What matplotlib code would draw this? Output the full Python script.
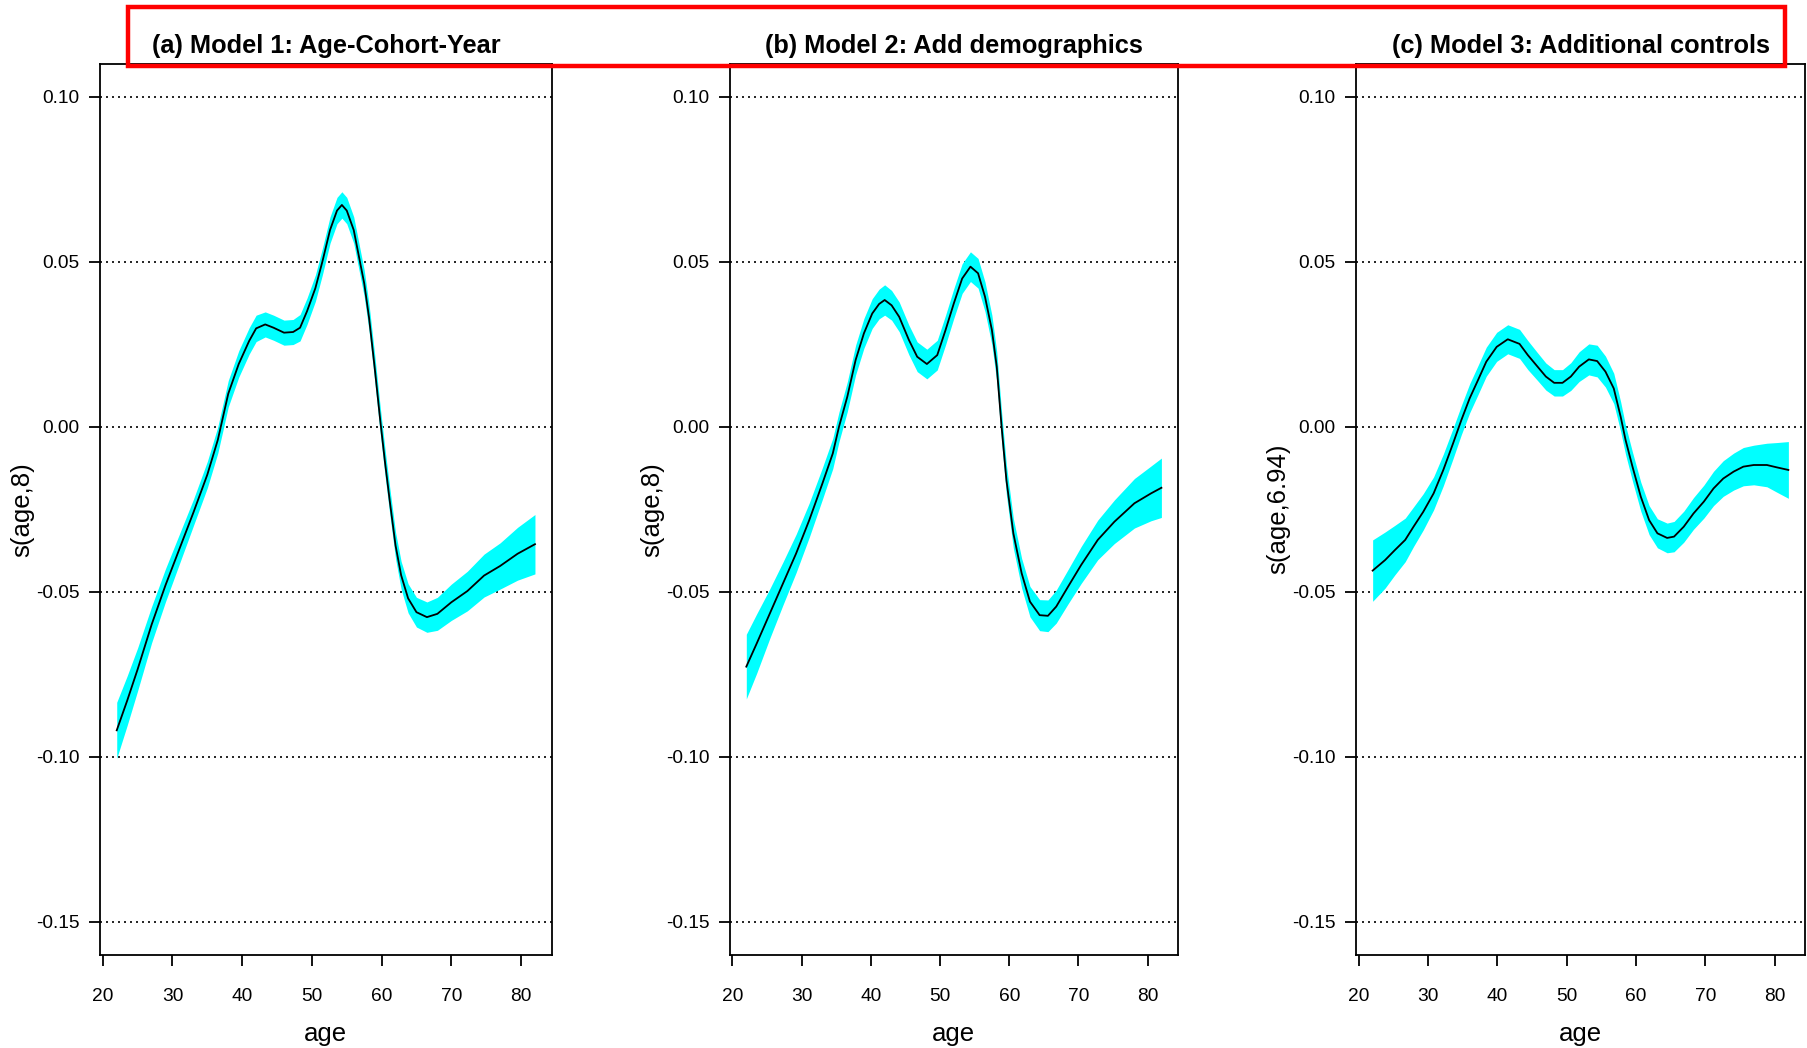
import matplotlib
matplotlib.use('Agg')
import numpy as np
import matplotlib.pyplot as plt
from matplotlib.patches import Rectangle

plt.rcParams['font.family'] = ['Liberation Sans', 'DejaVu Sans']
plt.rcParams['axes.unicode_minus'] = False

# axis ticks
x_ticks = [20, 30, 40, 50, 60, 70, 80]
y_ticks = [0.10, 0.05, 0.00, -0.05, -0.10, -0.15]
y_tick_labels = ['0.10', '0.05', '0.00', '-0.05', '-0.10', '-0.15']

# (a) Model 1: Age-Cohort-Year
age_a = [22, 23.5, 25, 27, 29, 31, 33, 35, 36.5, 38, 39.5, 41, 42, 43.3, 44.5, 46,
         47.3, 48.3, 49.3, 50.5, 51.5, 52.6, 53.6, 54.3, 55, 56, 56.8, 57.5, 58.2,
         59, 59.8, 60.5, 61.2, 62, 62.8, 63.8, 65, 66.5, 68, 70, 72.3, 74.7, 77,
         79.5, 82]
fit_a = [-0.092, -0.083, -0.0735, -0.060, -0.048, -0.037, -0.026, -0.0145, -0.004,
         0.010, 0.019, 0.026, 0.0298, 0.031, 0.030, 0.0285, 0.0287, 0.030, 0.035,
         0.042, 0.050, 0.0596, 0.0655, 0.0672, 0.0655, 0.0596, 0.051, 0.0435, 0.033,
         0.018, 0.002, -0.011, -0.023, -0.036, -0.045, -0.052, -0.0562, -0.0577,
         -0.0567, -0.0532, -0.0498, -0.0451, -0.0422, -0.0385, -0.0356]
band_a = [0.0085, 0.0075, 0.0065, 0.0055, 0.005, 0.0045, 0.004, 0.004, 0.004, 0.004,
          0.004, 0.004, 0.004, 0.0038, 0.0038, 0.0038, 0.0038, 0.004, 0.004, 0.004,
          0.004, 0.004, 0.004, 0.004, 0.004, 0.004, 0.004, 0.004, 0.004, 0.004,
          0.004, 0.004, 0.004, 0.004, 0.0042, 0.0044, 0.0045, 0.0046, 0.005, 0.0055,
          0.006, 0.0065, 0.007, 0.008, 0.009]

# (b) Model 2: Add demographics
age_b = [22, 23.5, 25.4, 27.3, 29.2, 31.1, 33, 34.5, 35.4, 36.6, 37.8, 39, 40.2,
         41.2, 42, 43, 44.1, 45.5, 46.7, 48.1, 49.6, 50.8, 52, 53.2, 54.4, 55.5,
         56.5, 57.5, 58.2, 58.9, 59.6, 60.6, 61.8, 63, 64.4, 65.6, 66.8, 68.5, 70.4,
         72.8, 75.2, 78.1, 80.5, 82]
fit_b = [-0.0727, -0.0657, -0.0566, -0.0475, -0.0384, -0.0283, -0.0172, -0.0081,
         0.0, 0.0091, 0.0202, 0.0283, 0.0343, 0.0372, 0.0384, 0.0368, 0.0333, 0.0263,
         0.0212, 0.019, 0.0217, 0.0293, 0.0374, 0.0449, 0.0485, 0.0465, 0.0394,
         0.0293, 0.0182, 0.0, -0.0162, -0.0323, -0.0444, -0.053, -0.0571, -0.0573,
         -0.0545, -0.0485, -0.0419, -0.0343, -0.0288, -0.0232, -0.0202, -0.0185]
band_b = [0.0098, 0.009, 0.0075, 0.0065, 0.0058, 0.0052, 0.0048, 0.0046, 0.0045,
          0.0045, 0.0045, 0.0045, 0.0045, 0.0045, 0.0046, 0.0045, 0.0045, 0.0045,
          0.0045, 0.0045, 0.0045, 0.0045, 0.0045, 0.0045, 0.0045, 0.0045, 0.0045,
          0.0045, 0.0045, 0.0045, 0.0045, 0.0045, 0.0045, 0.0046, 0.0047, 0.0048,
          0.005, 0.0052, 0.0056, 0.006, 0.0066, 0.0075, 0.0083, 0.009]

# (c) Model 3: Additional controls
age_c = [22, 23.8, 25.2, 26.7, 27.9, 29.3, 30.8, 32.2, 33.6, 34.8, 36, 37.2, 38.4,
         39.9, 41.5, 43.2, 44.4, 45.8, 47, 48.2, 49.4, 50.6, 51.8, 53.2, 54.4, 55.6,
         56.8, 57.8, 58.5, 59.5, 60.7, 61.9, 63.1, 64.5, 65.5, 66.9, 68.3, 69.8,
         71.2, 72.6, 74.1, 75.5, 77, 78.9, 80.3, 82]
fit_c = [-0.0436, -0.0404, -0.0374, -0.0343, -0.0303, -0.0258, -0.0202, -0.0131,
         -0.0051, 0.002, 0.0086, 0.0141, 0.0197, 0.0242, 0.0265, 0.0251, 0.0217,
         0.0182, 0.0152, 0.0133, 0.0133, 0.0152, 0.0182, 0.0204, 0.0199, 0.0167,
         0.0116, 0.003, -0.004, -0.0121, -0.0212, -0.0283, -0.0323, -0.0337, -0.0333,
         -0.0303, -0.0263, -0.0227, -0.0187, -0.0157, -0.0136, -0.0121, -0.0116,
         -0.0116, -0.0123, -0.0131]
band_c = [0.0093, 0.0085, 0.0075, 0.0066, 0.006, 0.0055, 0.005, 0.0048, 0.0046,
          0.0044, 0.0044, 0.0044, 0.0044, 0.0044, 0.0044, 0.0044, 0.0044, 0.0042,
          0.0041, 0.004, 0.004, 0.0042, 0.0045, 0.0047, 0.0048, 0.0047, 0.0046,
          0.0045, 0.0044, 0.0044, 0.0044, 0.0044, 0.0044, 0.0045, 0.0046, 0.0047,
          0.0048, 0.005, 0.0052, 0.0054, 0.0056, 0.0058, 0.006, 0.0066, 0.0075, 0.0086]

titles = ['(a) Model 1: Age-Cohort-Year', '(b) Model 2: Add demographics',
          '(c) Model 3: Additional controls']
ylabels = ['s(age,8)', 's(age,8)', 's(age,6.94)']

fig = plt.figure(figsize=(18.07, 10.48), dpi=100)

rects = [[0.05534, 0.0890, 0.24997, 0.8502],
         [0.40382, 0.0890, 0.24809, 0.8502],
         [0.75042, 0.0890, 0.24848, 0.8502]]
series = [(age_a, fit_a, band_a), (age_b, fit_b, band_b), (age_c, fit_c, band_c)]

for rect, (age, fit, band), title, ylab in zip(rects, series, titles, ylabels):
    ax = fig.add_axes(rect)
    age = np.array(age)
    fit = np.array(fit)
    band = np.array(band)
    ax.fill_between(age, fit - band, fit + band, color='#00FFFF', lw=0, zorder=2)
    ax.plot(age, fit, color='black', lw=1.3, zorder=3)
    for y in y_ticks:
        ax.axhline(y, color='black', lw=1.2, ls=(0, (1.2, 2.4)), zorder=1)
    ax.set_xlim(19.6, 84.4)
    ax.set_ylim(-0.16, 0.11)
    ax.set_xticks(x_ticks)
    ax.set_yticks(y_ticks)
    ax.set_yticklabels(y_tick_labels)
    ax.tick_params(direction='out', length=7.7, width=1.3, labelsize=13.8)
    ax.tick_params(axis='x', pad=16)
    ax.tick_params(axis='y', pad=7)
    ax.set_xlabel('age', fontsize=18.5, labelpad=12.5)
    ax.set_ylabel(ylab, fontsize=18.5, labelpad=1)
    for s in ax.spines.values():
        s.set_linewidth(1.3)
        s.set_color('black')
    fig.text(rect[0] + rect[2] / 2, 0.9491, title, ha='center', va='baseline',
             fontsize=18.3, fontweight='bold')

# red box round the titles
fig.add_artist(Rectangle((0.07067, 0.9375), 0.98782 - 0.07067, 0.99313 - 0.9375,
                         transform=fig.transFigure, fill=False, edgecolor='red',
                         lw=3.2, zorder=10))

fig.savefig('out.png', dpi=100)
